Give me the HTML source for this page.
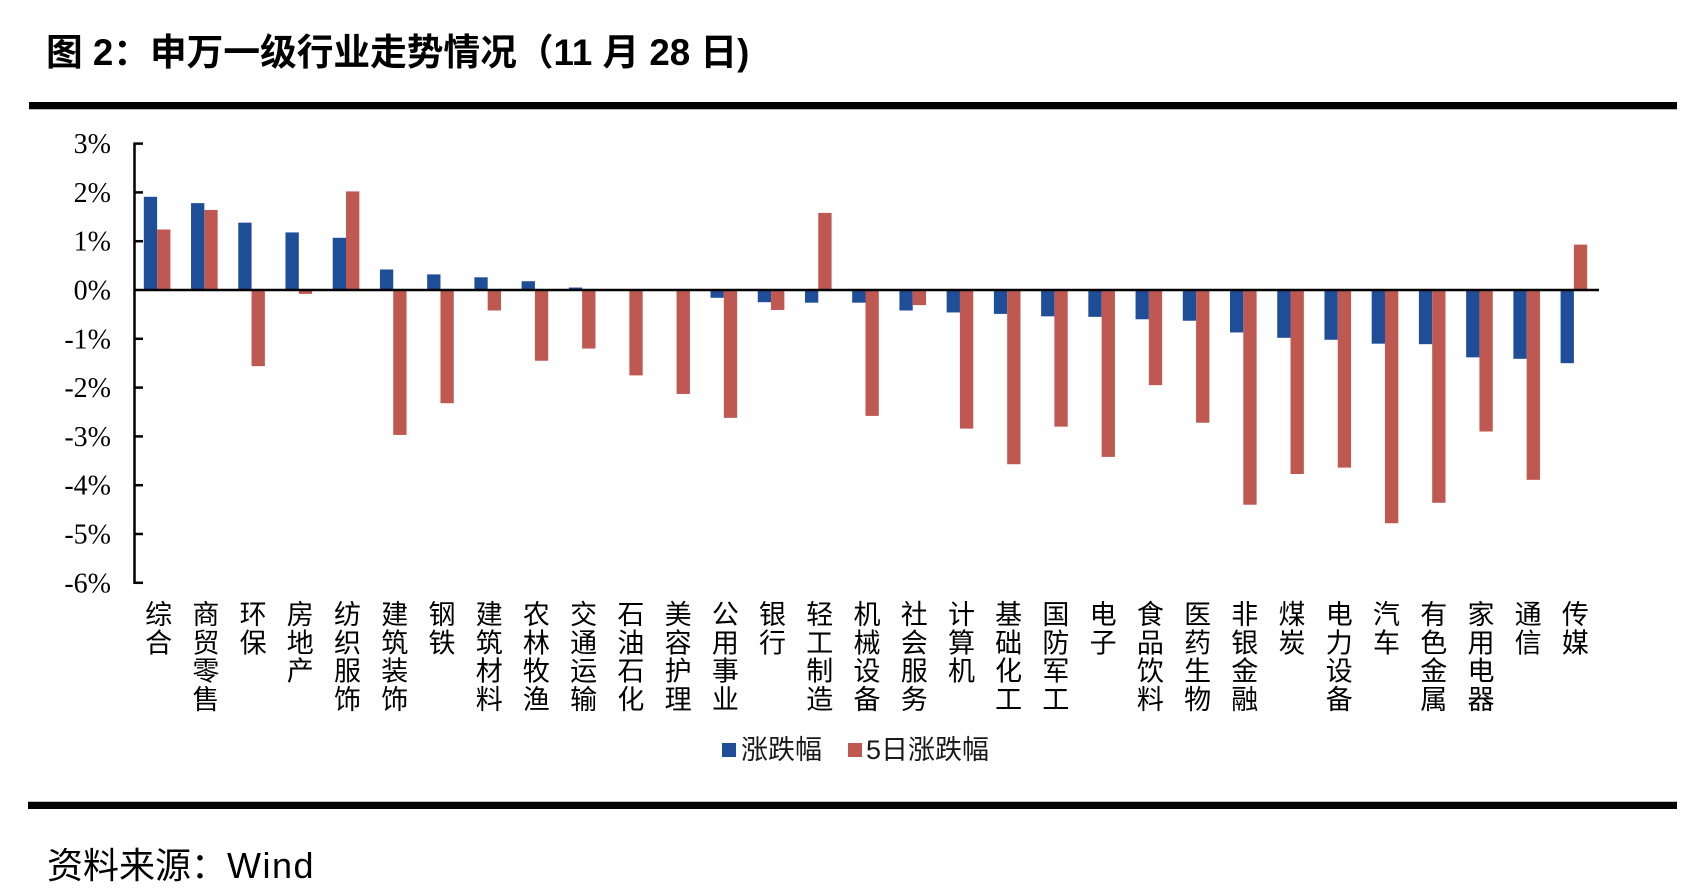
<!DOCTYPE html>
<html>
<head>
<meta charset="utf-8">
<style>
  html, body { margin: 0; padding: 0; background: #fff; }
  body { width: 1688px; height: 896px; overflow: hidden; }
  svg { display: block; }
  .cjk { font-family: "Liberation Sans", "Noto Sans CJK SC", sans-serif; }
  .yl { font-family: "Liberation Serif", serif; font-size: 28px; fill: #000; }
  .cat { font-family: "Noto Sans CJK SC", "WenQuanYi Zen Hei", sans-serif; font-size: 27px; fill: #000; }
</style>
</head>
<body>
<svg width="1688" height="896" viewBox="0 0 1688 896" xmlns="http://www.w3.org/2000/svg">
  <rect x="0" y="0" width="1688" height="896" fill="#fff"/>

  <!-- Title -->
  <text class="cjk" x="46" y="65" font-size="36.7" font-weight="bold" fill="#000">图 2：申万一级行业走势情况（11 月 28 日)</text>

  <!-- Top rule -->
  <rect x="29" y="102" width="1648" height="7" fill="#000"/>
  <rect x="29" y="109" width="1648" height="1" fill="#bbb"/>

  <!-- Bars: blue -->
  <g fill="#1F4E99">
    <rect x="143.81" y="196.79" width="13.3" height="93.21"/>
    <rect x="191.04" y="203.14" width="13.3" height="86.86"/>
    <rect x="238.27" y="222.66" width="13.3" height="67.34"/>
    <rect x="285.49" y="232.42" width="13.3" height="57.58"/>
    <rect x="332.72" y="237.78" width="13.3" height="52.22"/>
    <rect x="379.94" y="269.50" width="13.3" height="20.50"/>
    <rect x="427.17" y="274.38" width="13.3" height="15.62"/>
    <rect x="474.39" y="277.31" width="13.3" height="12.69"/>
    <rect x="521.62" y="281.22" width="13.3" height="8.78"/>
    <rect x="568.85" y="287.56" width="13.3" height="2.44"/>
    <rect x="710.52" y="290" width="13.3" height="7.81"/>
    <rect x="757.75" y="290" width="13.3" height="12.20"/>
    <rect x="804.98" y="290" width="13.3" height="12.69"/>
    <rect x="852.20" y="290" width="13.3" height="12.69"/>
    <rect x="899.43" y="290" width="13.3" height="20.50"/>
    <rect x="946.65" y="290" width="13.3" height="22.45"/>
    <rect x="993.88" y="290" width="13.3" height="23.91"/>
    <rect x="1041.11" y="290" width="13.3" height="26.35"/>
    <rect x="1088.33" y="290" width="13.3" height="26.84"/>
    <rect x="1135.56" y="290" width="13.3" height="29.28"/>
    <rect x="1182.78" y="290" width="13.3" height="30.74"/>
    <rect x="1230.01" y="290" width="13.3" height="42.46"/>
    <rect x="1277.24" y="290" width="13.3" height="47.82"/>
    <rect x="1324.46" y="290" width="13.3" height="49.78"/>
    <rect x="1371.69" y="290" width="13.3" height="53.68"/>
    <rect x="1418.91" y="290" width="13.3" height="54.17"/>
    <rect x="1466.14" y="290" width="13.3" height="67.34"/>
    <rect x="1513.37" y="290" width="13.3" height="68.81"/>
    <rect x="1560.59" y="290" width="13.3" height="73.20"/>
  </g>

  <!-- Bars: red -->
  <g fill="#BE5850">
    <rect x="157.11" y="229.49" width="13.3" height="60.51"/>
    <rect x="204.34" y="209.97" width="13.3" height="80.03"/>
    <rect x="251.57" y="290" width="13.3" height="76.13"/>
    <rect x="298.79" y="290" width="13.3" height="3.90"/>
    <rect x="346.02" y="191.42" width="13.3" height="98.58"/>
    <rect x="393.24" y="290" width="13.3" height="144.94"/>
    <rect x="440.47" y="290" width="13.3" height="113.22"/>
    <rect x="487.69" y="290" width="13.3" height="20.50"/>
    <rect x="534.92" y="290" width="13.3" height="70.76"/>
    <rect x="582.15" y="290" width="13.3" height="58.56"/>
    <rect x="629.37" y="290" width="13.3" height="85.40"/>
    <rect x="676.60" y="290" width="13.3" height="103.94"/>
    <rect x="723.82" y="290" width="13.3" height="127.86"/>
    <rect x="771.05" y="290" width="13.3" height="20.01"/>
    <rect x="818.28" y="212.90" width="13.3" height="77.10"/>
    <rect x="865.50" y="290" width="13.3" height="125.90"/>
    <rect x="912.73" y="290" width="13.3" height="15.13"/>
    <rect x="959.95" y="290" width="13.3" height="138.59"/>
    <rect x="1007.18" y="290" width="13.3" height="174.22"/>
    <rect x="1054.41" y="290" width="13.3" height="136.64"/>
    <rect x="1101.63" y="290" width="13.3" height="166.90"/>
    <rect x="1148.86" y="290" width="13.3" height="95.16"/>
    <rect x="1196.08" y="290" width="13.3" height="132.74"/>
    <rect x="1243.31" y="290" width="13.3" height="214.72"/>
    <rect x="1290.54" y="290" width="13.3" height="183.98"/>
    <rect x="1337.76" y="290" width="13.3" height="177.63"/>
    <rect x="1384.99" y="290" width="13.3" height="233.26"/>
    <rect x="1432.21" y="290" width="13.3" height="212.77"/>
    <rect x="1479.44" y="290" width="13.3" height="141.52"/>
    <rect x="1526.67" y="290" width="13.3" height="189.83"/>
    <rect x="1573.89" y="244.62" width="13.3" height="45.38"/>
  </g>

  <!-- Axes -->
  <g stroke="#000" stroke-width="2.5" fill="none">
    <line x1="134.5" y1="142.5" x2="134.5" y2="584"/>
    <line x1="134" y1="290" x2="1599" y2="290"/>
    <line x1="134" y1="143.6" x2="143" y2="143.6"/>
    <line x1="134" y1="192.4" x2="143" y2="192.4"/>
    <line x1="134" y1="241.2" x2="143" y2="241.2"/>
    <line x1="134" y1="338.8" x2="143" y2="338.8"/>
    <line x1="134" y1="387.6" x2="143" y2="387.6"/>
    <line x1="134" y1="436.4" x2="143" y2="436.4"/>
    <line x1="134" y1="485.2" x2="143" y2="485.2"/>
    <line x1="134" y1="534.0" x2="143" y2="534.0"/>
    <line x1="134" y1="582.8" x2="143" y2="582.8"/>
  </g>

  <!-- Y labels -->
  <g class="yl" text-anchor="end">
    <text x="111" y="153.1">3%</text>
    <text x="111" y="201.9">2%</text>
    <text x="111" y="250.7">1%</text>
    <text x="111" y="299.5">0%</text>
    <text x="111" y="348.3">-1%</text>
    <text x="111" y="397.1">-2%</text>
    <text x="111" y="445.9">-3%</text>
    <text x="111" y="494.7">-4%</text>
    <text x="111" y="543.5">-5%</text>
    <text x="111" y="592.3">-6%</text>
  </g>

  <!-- Category labels (vertical) -->
  <g class="cat" text-anchor="middle">
    <text x="158.61" y="624"><tspan x="158.61">综</tspan><tspan x="158.61" dy="28.3">合</tspan></text>
    <text x="205.84" y="624"><tspan x="205.84">商</tspan><tspan x="205.84" dy="28.3">贸</tspan><tspan x="205.84" dy="28.3">零</tspan><tspan x="205.84" dy="28.3">售</tspan></text>
    <text x="253.07" y="624"><tspan x="253.07">环</tspan><tspan x="253.07" dy="28.3">保</tspan></text>
    <text x="300.29" y="624"><tspan x="300.29">房</tspan><tspan x="300.29" dy="28.3">地</tspan><tspan x="300.29" dy="28.3">产</tspan></text>
    <text x="347.52" y="624"><tspan x="347.52">纺</tspan><tspan x="347.52" dy="28.3">织</tspan><tspan x="347.52" dy="28.3">服</tspan><tspan x="347.52" dy="28.3">饰</tspan></text>
    <text x="394.74" y="624"><tspan x="394.74">建</tspan><tspan x="394.74" dy="28.3">筑</tspan><tspan x="394.74" dy="28.3">装</tspan><tspan x="394.74" dy="28.3">饰</tspan></text>
    <text x="441.97" y="624"><tspan x="441.97">钢</tspan><tspan x="441.97" dy="28.3">铁</tspan></text>
    <text x="489.19" y="624"><tspan x="489.19">建</tspan><tspan x="489.19" dy="28.3">筑</tspan><tspan x="489.19" dy="28.3">材</tspan><tspan x="489.19" dy="28.3">料</tspan></text>
    <text x="536.42" y="624"><tspan x="536.42">农</tspan><tspan x="536.42" dy="28.3">林</tspan><tspan x="536.42" dy="28.3">牧</tspan><tspan x="536.42" dy="28.3">渔</tspan></text>
    <text x="583.65" y="624"><tspan x="583.65">交</tspan><tspan x="583.65" dy="28.3">通</tspan><tspan x="583.65" dy="28.3">运</tspan><tspan x="583.65" dy="28.3">输</tspan></text>
    <text x="630.87" y="624"><tspan x="630.87">石</tspan><tspan x="630.87" dy="28.3">油</tspan><tspan x="630.87" dy="28.3">石</tspan><tspan x="630.87" dy="28.3">化</tspan></text>
    <text x="678.10" y="624"><tspan x="678.10">美</tspan><tspan x="678.10" dy="28.3">容</tspan><tspan x="678.10" dy="28.3">护</tspan><tspan x="678.10" dy="28.3">理</tspan></text>
    <text x="725.32" y="624"><tspan x="725.32">公</tspan><tspan x="725.32" dy="28.3">用</tspan><tspan x="725.32" dy="28.3">事</tspan><tspan x="725.32" dy="28.3">业</tspan></text>
    <text x="772.55" y="624"><tspan x="772.55">银</tspan><tspan x="772.55" dy="28.3">行</tspan></text>
    <text x="819.78" y="624"><tspan x="819.78">轻</tspan><tspan x="819.78" dy="28.3">工</tspan><tspan x="819.78" dy="28.3">制</tspan><tspan x="819.78" dy="28.3">造</tspan></text>
    <text x="867.00" y="624"><tspan x="867.00">机</tspan><tspan x="867.00" dy="28.3">械</tspan><tspan x="867.00" dy="28.3">设</tspan><tspan x="867.00" dy="28.3">备</tspan></text>
    <text x="914.23" y="624"><tspan x="914.23">社</tspan><tspan x="914.23" dy="28.3">会</tspan><tspan x="914.23" dy="28.3">服</tspan><tspan x="914.23" dy="28.3">务</tspan></text>
    <text x="961.45" y="624"><tspan x="961.45">计</tspan><tspan x="961.45" dy="28.3">算</tspan><tspan x="961.45" dy="28.3">机</tspan></text>
    <text x="1008.68" y="624"><tspan x="1008.68">基</tspan><tspan x="1008.68" dy="28.3">础</tspan><tspan x="1008.68" dy="28.3">化</tspan><tspan x="1008.68" dy="28.3">工</tspan></text>
    <text x="1055.91" y="624"><tspan x="1055.91">国</tspan><tspan x="1055.91" dy="28.3">防</tspan><tspan x="1055.91" dy="28.3">军</tspan><tspan x="1055.91" dy="28.3">工</tspan></text>
    <text x="1103.13" y="624"><tspan x="1103.13">电</tspan><tspan x="1103.13" dy="28.3">子</tspan></text>
    <text x="1150.36" y="624"><tspan x="1150.36">食</tspan><tspan x="1150.36" dy="28.3">品</tspan><tspan x="1150.36" dy="28.3">饮</tspan><tspan x="1150.36" dy="28.3">料</tspan></text>
    <text x="1197.58" y="624"><tspan x="1197.58">医</tspan><tspan x="1197.58" dy="28.3">药</tspan><tspan x="1197.58" dy="28.3">生</tspan><tspan x="1197.58" dy="28.3">物</tspan></text>
    <text x="1244.81" y="624"><tspan x="1244.81">非</tspan><tspan x="1244.81" dy="28.3">银</tspan><tspan x="1244.81" dy="28.3">金</tspan><tspan x="1244.81" dy="28.3">融</tspan></text>
    <text x="1292.04" y="624"><tspan x="1292.04">煤</tspan><tspan x="1292.04" dy="28.3">炭</tspan></text>
    <text x="1339.26" y="624"><tspan x="1339.26">电</tspan><tspan x="1339.26" dy="28.3">力</tspan><tspan x="1339.26" dy="28.3">设</tspan><tspan x="1339.26" dy="28.3">备</tspan></text>
    <text x="1386.49" y="624"><tspan x="1386.49">汽</tspan><tspan x="1386.49" dy="28.3">车</tspan></text>
    <text x="1433.71" y="624"><tspan x="1433.71">有</tspan><tspan x="1433.71" dy="28.3">色</tspan><tspan x="1433.71" dy="28.3">金</tspan><tspan x="1433.71" dy="28.3">属</tspan></text>
    <text x="1480.94" y="624"><tspan x="1480.94">家</tspan><tspan x="1480.94" dy="28.3">用</tspan><tspan x="1480.94" dy="28.3">电</tspan><tspan x="1480.94" dy="28.3">器</tspan></text>
    <text x="1528.17" y="624"><tspan x="1528.17">通</tspan><tspan x="1528.17" dy="28.3">信</tspan></text>
    <text x="1575.39" y="624"><tspan x="1575.39">传</tspan><tspan x="1575.39" dy="28.3">媒</tspan></text>
  </g>

  <!-- Legend -->
  <rect x="722" y="743" width="14" height="14" fill="#1F4E99"/>
  <text class="cjk" x="741" y="759" font-size="27" fill="#1a1a1a">涨跌幅</text>
  <rect x="848" y="743" width="14" height="14" fill="#BE5850"/>
  <text class="cjk" x="866" y="759" font-size="27" fill="#1a1a1a">5日涨跌幅</text>

  <!-- Bottom rule -->
  <rect x="28" y="801" width="1649" height="1" fill="#bbb"/>
  <rect x="28" y="802" width="1649" height="7" fill="#000"/>

  <!-- Source -->
  <text class="cjk" x="47" y="878" font-size="36" fill="#000">资料来源：<tspan letter-spacing="1.5">Wind</tspan></text>
</svg>
</body>
</html>
